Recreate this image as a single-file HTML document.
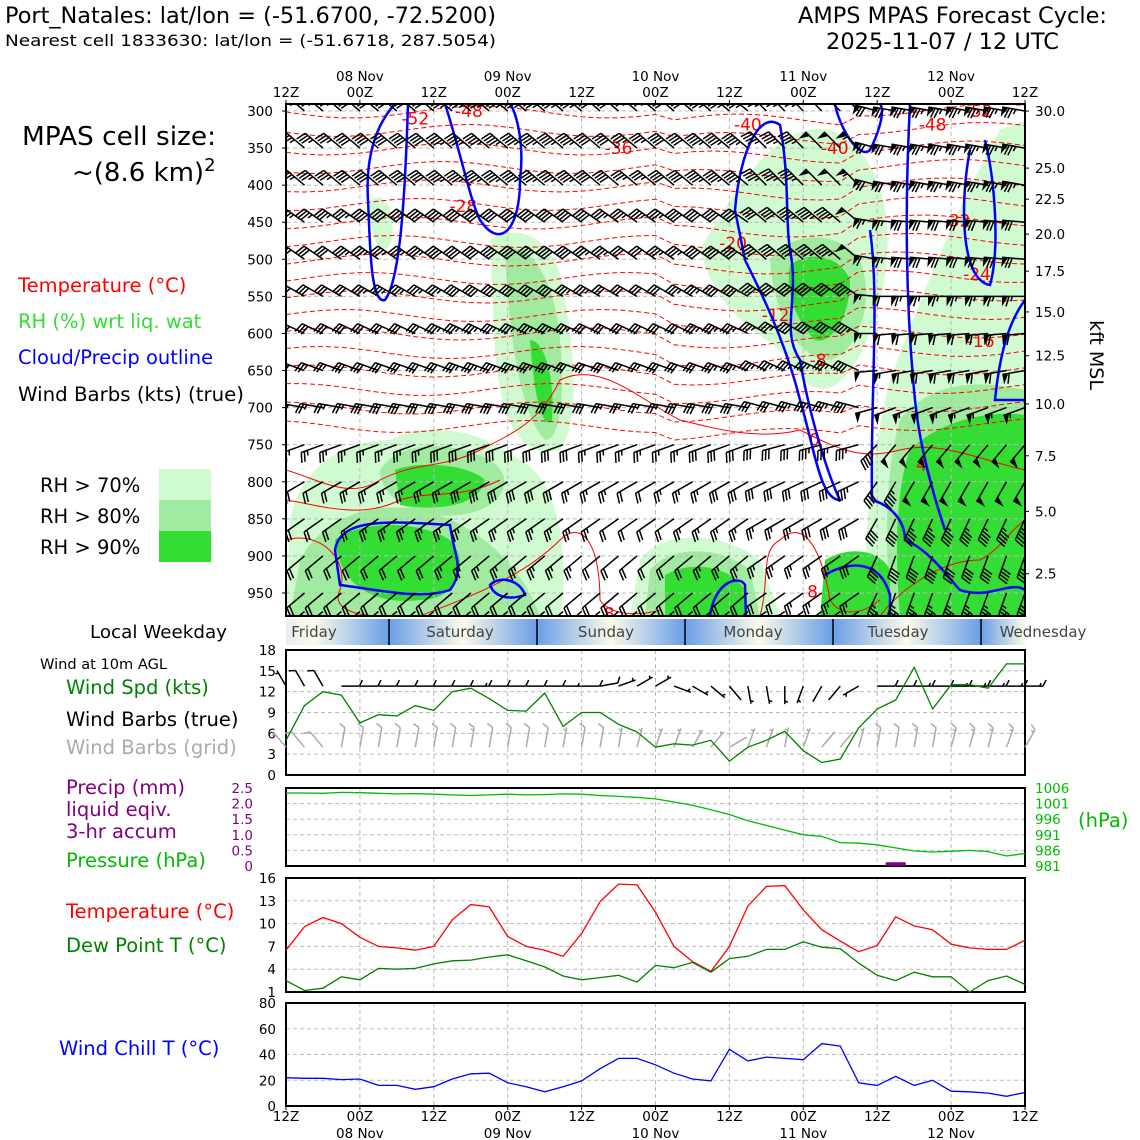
<!DOCTYPE html>
<html><head><meta charset="utf-8"><style>
html,body{margin:0;padding:0;background:#fff;}
svg{display:block;font-family:"DejaVu Sans","Liberation Sans",sans-serif;}
</style></head><body>
<svg id="s" width="1140" height="1140" viewBox="0 0 1140 1140" xmlns="http://www.w3.org/2000/svg">
<defs>
<linearGradient id="wk" x1="286" x2="1025" y1="0" y2="0" gradientUnits="userSpaceOnUse"></linearGradient>
<clipPath id="mainclip"><rect x="286" y="104" width="739" height="512"/></clipPath>
</defs>
<g>
<text x="5" y="23" font-size="22" textLength="491" lengthAdjust="spacingAndGlyphs">Port_Natales: lat/lon = (-51.6700, -72.5200)</text>
<text x="5" y="46" font-size="16" textLength="491" lengthAdjust="spacingAndGlyphs">Nearest cell 1833630: lat/lon = (-51.6718, 287.5054)</text>
<text x="798" y="23" font-size="22" textLength="309" lengthAdjust="spacingAndGlyphs">AMPS MPAS Forecast Cycle:</text>
<text x="826" y="49" font-size="22" textLength="233" lengthAdjust="spacingAndGlyphs">2025-11-07 / 12 UTC</text>
<text x="22" y="145" font-size="26" textLength="194" lengthAdjust="spacingAndGlyphs">MPAS cell size:</text>
<text x="72" y="181" font-size="26">~(8.6 km)<tspan dy="-10" font-size="18">2</tspan></text>
<text x="18" y="292" font-size="19.5" fill="#ff0000">Temperature (°C)</text>
<text x="18" y="328" font-size="19.5" fill="#33dd33">RH (%) wrt liq. wat</text>
<text x="18" y="364" font-size="19.5" fill="#0000ff">Cloud/Precip outline</text>
<text x="18" y="401" font-size="19.5" textLength="226" lengthAdjust="spacingAndGlyphs">Wind Barbs (kts) (true)</text>
<text x="40" y="492" font-size="19.5">RH &gt; 70%</text>
<text x="40" y="523" font-size="19.5">RH &gt; 80%</text>
<text x="40" y="554" font-size="19.5">RH &gt; 90%</text>
<rect x="159" y="469" width="52" height="31" fill="#d0fad0"/>
<rect x="159" y="500" width="52" height="31" fill="#a0eba0"/>
<rect x="159" y="531" width="52" height="31" fill="#33dd33"/>
<text x="90" y="638" font-size="18" textLength="137" lengthAdjust="spacingAndGlyphs">Local Weekday</text>
<text x="40" y="669" font-size="14" textLength="127" lengthAdjust="spacingAndGlyphs">Wind at 10m AGL</text>
<text x="66" y="694" font-size="19.5" fill="#008000">Wind Spd (kts)</text>
<text x="66" y="726" font-size="19.5">Wind Barbs (true)</text>
<text x="66" y="754" font-size="19.5" fill="#aaaaaa">Wind Barbs (grid)</text>
<text x="66" y="794" font-size="19.5" fill="#800080">Precip (mm)</text>
<text x="66" y="816" font-size="19.5" fill="#800080">liquid eqiv.</text>
<text x="66" y="838" font-size="19.5" fill="#800080">3-hr accum</text>
<text x="66" y="867" font-size="19.5" fill="#00bb00">Pressure (hPa)</text>
<text x="66" y="918" font-size="19.5" fill="#ff0000">Temperature (°C)</text>
<text x="66" y="952" font-size="19.5" fill="#008000">Dew Point T (°C)</text>
<text x="59" y="1055" font-size="19.5" fill="#0000ff">Wind Chill T (°C)</text>
<text x="1078" y="827" font-size="19.5" fill="#00bb00">(hPa)</text>
<text x="0" y="0" font-size="19" transform="translate(1090,355) rotate(90)" text-anchor="middle">kft MSL</text>
</g>
<g id="g"></g>
</svg>
<script>
// ---------- data ----------
const topTimeLabels=["12Z","00Z","12Z","00Z","12Z","00Z","12Z","00Z","12Z","00Z","12Z"];
const dateLabels=["08 Nov","09 Nov","10 Nov","11 Nov","12 Nov"];
const pressureTicks=[300,350,400,450,500,550,600,650,700,750,800,850,900,950];
const kftTicks=["30.0","25.0","22.5","20.0","17.5","15.0","12.5","10.0","7.5","5.0","2.5"];
const kftPress=[300,377,419,466,516,571,630,695,765,840,924];
const weekdays=["Friday","Saturday","Sunday","Monday","Tuesday","Wednesday"];
const barbLevels=[300,350,400,450,500,550,600,650,700,750,800,850,900,950,975];
const barbLevelSpeed=[45,45,45,42,40,38,36,34,32,30,28,26,24,22,20];
const barbLevelDir=[310,310,310,305,305,300,295,290,280,250,240,235,230,230,230];
const barbColFactor=[0.8,0.8,0.8,0.8,0.85,0.9,0.9,0.9,0.9,0.95,1,1,1,1,1,1,0.95,0.9,0.85,0.8,0.8,0.85,0.9,0.95,1,1,1,1,1.05,1.1,1.1,1.2,1.5,1.6,1.7,1.7,1.7,1.7,1.7,1.7,1.7];
const barbColDirShift=[0,0,0,0,0,0,0,0,0,0,0,0,0,0,0,0,0,0,0,0,0,0,0,0,0,0,5,5,5,5,5,5,-25,-30,-30,-30,-30,-30,-30,-30,-30];
const windSpd=[5,10,12,11.5,7.5,8.7,8.5,10,9.3,12,12.5,11,9.3,9.2,11.8,7,9,9,7.3,6.2,4,4.5,4.3,5,2,4,5,6.3,3.5,1.8,2.3,6.8,9.5,10.8,15.5,9.5,13,13,12.5,16,16];
const windTicks=[0,3,6,9,12,15,18];
const pressure=[1004.4,1004.4,1004.3,1004.6,1004.5,1004.3,1004.1,1004.2,1004.0,1003.8,1003.6,1003.8,1004.0,1003.8,1003.9,1004.1,1004.0,1003.6,1003.3,1003.0,1002.5,1001.5,1000.5,999.0,997.5,995.5,994.0,992.5,991.0,990.5,988.5,988.3,987.8,986.8,985.8,985.5,985.7,986.0,985.6,984.2,985.0];
const precip=[0,0,0,0,0,0,0,0,0,0,0,0,0,0,0,0,0,0,0,0,0,0,0,0,0,0,0,0,0,0,0,0,0,0.12,0,0,0,0,0,0,0];
const precipTicks=["0","0.5","1.0","1.5","2.0","2.5"];
const presTicks=[981,986,991,996,1001,1006];
const temp=[6.5,9.6,10.8,10,8.2,7,6.8,6.5,7,10.5,12.5,12.2,8.3,7,6.5,5.7,8.7,12.9,15.2,15.1,11.5,7,5,3.7,7,12.3,14.9,15,11.8,9.2,7.7,6.3,7.1,10.9,9.7,9.2,7.3,6.8,6.6,6.6,7.8];
const dewp=[2.5,1.2,1.5,3,2.6,4.1,4,4.1,4.7,5.1,5.2,5.6,5.9,5.1,4.3,3.1,2.6,2.9,3.2,2.3,4.5,4.2,4.9,3.6,5.4,5.7,6.6,6.6,7.6,6.9,6.7,4.8,3.2,2.5,3.6,3,3,1,2.5,3.1,2];
const tempTicks=[1,4,7,10,13,16];
const chill=[22,21.5,21.5,20.5,21,16,16,13,15,21,25,25.5,18,15,11,15,19.5,29,37,37,32,25.5,21,19.5,44,35,38,37,36,48.5,46.5,18,16,23,16,20,11.5,11,10,7.5,10.5];
const chillTicks=[0,20,40,60,80];
const tempContourLabels=[["-52",7.0,310],["-48",9.9,300],["-36",18.0,350],["-28",9.6,428],["-20",24.2,478],["-12",26.5,575],["-8",28.8,636],["0",28.6,743],["4",34.4,777],["8",17.5,978],["8",28.5,948],["12",27.0,988],["8",34.0,988],["-16",37.6,610],["-24",37.4,520],["-32",36.3,448],["-48",35.0,318],["-52",37.5,300],["-40",25.0,318],["-40",29.7,350]];
const sfcDirTrue=[330,330,330,90,90,90,90,90,90,90,90,90,90,90,90,90,90,80,70,60,60,110,120,130,140,170,170,180,200,210,220,240,90,90,90,90,90,90,90,90,90];
const sfcDirGrid=[320,320,320,10,10,10,10,10,10,10,10,10,10,10,10,10,10,10,10,15,20,20,30,40,60,20,20,10,20,40,40,15,10,10,10,10,15,15,15,20,30];

// ---------- helpers ----------
const NS="http://www.w3.org/2000/svg";
const G=document.getElementById('g');
const X0=286,X1=1025,DX=(X1-X0)/40;
function xT(i){return X0+i*DX;}
function yP(p){return 111+(p-300)*0.7415;}
function mk(tag,attrs,parent){const e=document.createElementNS(NS,tag);for(const k in attrs)e.setAttribute(k,attrs[k]);(parent||G).appendChild(e);return e;}
function txt(x,y,s,attrs,parent){const t=mk('text',Object.assign({x:x,y:y},attrs||{}),parent);t.textContent=s;return t;}
function lin(v0,v1,p0,p1){return v=>p0+(v-v0)*(p1-p0)/(v1-v0);}

// ---------- main panel ----------
const mainG=mk('g',{'clip-path':'url(#mainclip)'});


const rhShapes=[
 ['#d0fad0','M290 520 C300 470 340 440 390 440 C430 420 480 430 520 460 C560 480 570 560 560 616 L286 616 Z'],
 ['#d0fad0','M490 240 C520 220 560 240 565 300 C575 360 580 420 560 450 C520 460 500 420 495 350 Z'],
 ['#d0fad0','M640 560 C660 530 720 530 760 560 L780 616 L630 616 Z'],
 ['#d0fad0','M700 250 C740 180 780 120 830 130 C880 150 900 220 880 300 C860 380 820 420 790 360 C760 330 720 320 700 250 Z'],
 ['#d0fad0','M890 380 C920 300 960 200 1000 130 L1025 120 L1025 616 L870 616 C860 560 870 460 890 380 Z'],
 ['#d0fad0','M370 200 C385 190 395 210 392 240 C385 260 370 250 370 200 Z'],
 ['#a0eba0','M300 560 C320 520 370 500 420 510 C470 520 520 560 540 616 L290 616 Z'],
 ['#a0eba0','M380 470 C400 440 450 440 490 460 C520 480 500 510 460 515 C420 520 380 500 380 470 Z'],
 ['#a0eba0','M505 250 C530 240 555 280 560 340 C565 400 560 440 545 440 C525 420 510 360 505 250 Z'],
 ['#a0eba0','M650 570 C670 545 720 545 750 570 L760 616 L645 616 Z'],
 ['#a0eba0','M770 260 C790 230 840 230 860 260 C875 300 860 350 830 360 C800 360 775 320 770 260 Z'],
 ['#a0eba0','M900 420 C930 380 980 380 1025 390 L1025 616 L890 616 C885 540 885 470 900 420 Z'],
 ['#33dd33','M335 540 C360 520 420 520 450 540 C470 560 460 600 420 600 C380 605 340 590 335 540 Z'],
 ['#33dd33','M395 470 C420 460 470 465 485 480 C480 505 440 512 400 505 Z'],
 ['#33dd33','M530 340 C545 340 555 380 552 420 C545 430 535 410 530 340 Z'],
 ['#33dd33','M665 575 C690 560 730 565 745 590 L745 616 L665 616 Z'],
 ['#33dd33','M790 265 C810 250 840 255 850 280 C850 320 830 345 815 340 C795 320 785 290 790 265 Z'],
 ['#33dd33','M910 450 C940 420 990 410 1025 415 L1025 616 L900 616 C895 560 895 490 910 450 Z'],
 ['#33dd33','M825 560 C850 545 880 550 890 570 L890 616 L820 616 Z']
];
rhShapes.forEach(s=>{const p=mk('path',{d:s[1],fill:s[0]},mainG);

});
for(let i=0;i<=40;i+=4){mk('line',{x1:xT(i),x2:xT(i),y1:104,y2:616,stroke:'#bbb','stroke-dasharray':'4 3','stroke-width':1},mainG);}
pressureTicks.forEach(p=>{mk('line',{x1:X0,x2:X1,y1:yP(p),y2:yP(p),stroke:'#bbb','stroke-dasharray':'4 3','stroke-width':1},mainG);});
for(let k=0;k<18;k++){
 const base=112+k*18.5;let d='';
 for(let i=0;i<=40;i++){const x=xT(i);const y=base+6*Math.sin(i*0.45+k*0.3)+(i>20?8:0)-(i>30?10:0);d+=(i?'L':'M')+x.toFixed(1)+' '+y.toFixed(1);}
 const c=mk('path',{d:d,fill:'none',stroke:'#ff0000','stroke-width':1,'stroke-dasharray':'5 3'},mainG);
 
 
}
const solidContours=[
 'M286 470 C320 480 350 500 380 480 C420 460 440 470 480 450 C520 430 540 420 560 380 C600 360 640 400 680 420 C720 430 760 440 800 430 C840 450 860 460 900 450 C940 440 980 460 1025 470',
 'M286 540 C320 530 350 560 340 590 C330 610 360 616 380 616',
 'M420 616 C460 600 520 580 560 540 C580 520 600 540 600 600 C610 616 640 616 660 610',
 'M760 616 C770 580 760 550 780 540 C800 520 820 540 830 600 C840 616 860 616 880 600',
 'M880 616 C900 590 940 560 980 560 C1000 550 1010 530 1025 520',
 'M286 500 C320 505 360 520 400 500 C430 490 460 500 500 480'
];
solidContours.forEach(d=>{const c=mk('path',{d:d,fill:'none',stroke:'#ff0000','stroke-width':1},mainG);

});
tempContourLabels.forEach(l=>{const t=txt(xT(l[1]),yP(l[2])+6,l[0],{'font-size':17,fill:'#ff0000','text-anchor':'middle'},mainG);

});
const cloudPaths=[
 'M408 104 C405 200 400 280 385 300 C370 305 370 240 368 200 C365 150 380 120 395 104',
 'M445 104 C460 150 470 200 480 220 C500 250 520 230 520 180 C525 140 515 110 510 104',
 'M335 550 C340 520 380 520 450 525 C455 560 465 570 450 590 C420 600 380 590 340 585 Z',
 'M490 585 C500 575 520 580 525 595 C510 600 495 598 490 585 Z',
 'M710 616 C715 580 740 575 745 585 L746 616',
 'M735 210 C740 150 760 110 780 125 C790 180 785 220 790 250 C800 300 780 330 800 360 C810 420 830 480 840 500 C820 500 815 450 800 400 C785 340 760 290 745 260 Z',
 'M835 104 C840 130 860 160 870 150 C880 130 885 110 880 104',
 'M870 230 C880 300 870 400 872 500 C890 505 905 520 905 540 C930 550 950 580 960 590 C990 600 1010 580 1025 590',
 'M825 575 C850 560 880 560 890 595 L890 616',
 'M910 104 C905 200 905 300 915 400 C920 450 935 500 945 530',
 'M970 150 C960 200 960 280 990 285 C1000 250 995 180 985 140',
 'M1025 300 C1010 320 1000 350 995 400 L1025 400'
];
cloudPaths.forEach(d=>{const p=mk('path',{d:d,fill:'none',stroke:'#0000ff','stroke-width':2.5},mainG);

});
function barb(x,y,dir,spd,len,color,parent,tick){
 const r=dir*Math.PI/180;const ux=Math.sin(r),uy=-Math.cos(r);
 const px=uy,py=-ux;
 const ex=x+ux*len,ey=y+uy*len;
 let d=`M${x.toFixed(1)} ${y.toFixed(1)}L${ex.toFixed(1)} ${ey.toFixed(1)}`;
 let s=Math.round(spd/5)*5,pos=0;let fl='';
 while(s>=50){const bx=ex-ux*pos,by=ey-uy*pos;const cx=ex-ux*(pos+6),cy=ey-uy*(pos+6);
  fl+=`M${bx.toFixed(1)} ${by.toFixed(1)}L${(bx+px*tick).toFixed(1)} ${(by+py*tick).toFixed(1)}L${cx.toFixed(1)} ${cy.toFixed(1)}Z`;pos+=7;s-=50;}
 while(s>=10){const bx=ex-ux*pos,by=ey-uy*pos;d+=`M${bx.toFixed(1)} ${by.toFixed(1)}l${(px*tick+ux*3).toFixed(1)} ${(py*tick+uy*3).toFixed(1)}`;pos+=3.3;s-=10;}
 if(s>=5){if(pos===0)pos=3.3;const bx=ex-ux*pos,by=ey-uy*pos;d+=`M${bx.toFixed(1)} ${by.toFixed(1)}l${(px*tick/2+ux*1.5).toFixed(1)} ${(py*tick/2+uy*1.5).toFixed(1)}`;}
 const g=mk('g',{},parent);
 mk('path',{d:d,stroke:color,'stroke-width':1.5,fill:'none'},g);
 if(fl)mk('path',{d:fl,fill:color,stroke:'none'},g);
 return g;
}
for(let i=1;i<41;i++){barbLevels.forEach((p,k)=>{
 const b=barb(xT(i),yP(p),barbLevelDir[k]+barbColDirShift[i],barbLevelSpeed[k]*barbColFactor[i],23,'#000',mainG,10);
 
 
});}
mk('rect',{x:X0,y:104,width:X1-X0,height:512,fill:'none',stroke:'#000','stroke-width':2});
pressureTicks.forEach(p=>{txt(273,yP(p)+5,String(p),{'font-size':13.5,'text-anchor':'end'});mk('line',{x1:X0-4,x2:X0,y1:yP(p),y2:yP(p),stroke:'#000'});});
kftTicks.forEach((s,k)=>{txt(1035,yP(kftPress[k])+5,s,{'font-size':13.5});mk('line',{x1:X1,x2:X1+4,y1:yP(kftPress[k]),y2:yP(kftPress[k]),stroke:'#000'});});
topTimeLabels.forEach((s,k)=>{txt(xT(k*4),97,s,{'font-size':13.5,'text-anchor':'middle'});mk('line',{x1:xT(k*4),x2:xT(k*4),y1:100,y2:104,stroke:'#000'});});
dateLabels.forEach((s,k)=>{txt(xT(4+k*8),81,s,{'font-size':13.5,'text-anchor':'middle'});});
const wk=document.getElementById('wk');const bounds=[389,537,685,833,981];
function stop(o,c){const s=document.createElementNS(NS,'stop');s.setAttribute('offset',o);s.setAttribute('stop-color',c);wk.appendChild(s);}
stop(0,'#e8eef0');
bounds.forEach(b=>{const o=(b-286)/739;stop(Math.max(0,o-0.1),'#fbfbe8');stop(o,'#6a9ee8');stop(Math.min(1,o+0.1),'#fbfbe8');});
stop(1,'#6a9ee8');
const wb=mk('rect',{x:X0,y:619,width:739,height:26,fill:'url(#wk)'});


bounds.forEach(b=>mk('line',{x1:b,x2:b,y1:619,y2:645,stroke:'#000','stroke-width':1.5}));
const wkCenters=[314,460,606,753,898,1043];
weekdays.forEach((s,k)=>{const t=txt(wkCenters[k],637,s,{'font-size':15,'text-anchor':'middle',fill:'#444'});

});

function panel(y0,y1,ticks,v0,v1,fmt,name){
 const y=lin(v0,v1,y1,y0);
 for(let i=4;i<40;i+=4)mk('line',{x1:xT(i),x2:xT(i),y1:y0,y2:y1,stroke:'#bbb','stroke-dasharray':'4 3'});
 ticks.forEach(t=>{mk('line',{x1:X0,x2:X1,y1:y(t),y2:y(t),stroke:'#bbb','stroke-dasharray':'4 3'});
  if(fmt)txt(276,y(t)+5,String(t),{'font-size':13.5,'text-anchor':'end'});});
 const r=mk('rect',{x:X0,y:y0,width:X1-X0,height:y1-y0,fill:'none',stroke:'#000','stroke-width':2});
 
 
 return y;
}
function series(vals,yf,color,name){
 let d='';vals.forEach((v,i)=>{d+=(i?'L':'M')+xT(i).toFixed(1)+' '+yf(v).toFixed(1);});
 const p=mk('path',{d:d,fill:'none',stroke:color,'stroke-width':1.3});
 
 
}
const yW=panel(650,775,windTicks,0,18,true,'wind-panel');
for(let i=0;i<=40;i++){
 const b1=barb(xT(i),yW(12.8),sfcDirTrue[i],windSpd[i],18,'#000',G,6);
 
 
 const b2=barb(xT(i),yW(4),sfcDirGrid[i],windSpd[i],20,'#aaaaaa',G,6);
 
 
}
series(windSpd,yW,'#008000','wind-speed-line');
const yPr=panel(788,866,[0,0.5,1,1.5,2,2.5],0,2.5,false,'precip-pressure-panel');
precipTicks.forEach(s=>txt(253,yPr(parseFloat(s))+5,s,{'font-size':13.5,'text-anchor':'end',fill:'#800080'}));
const yPs=lin(981,1006,866,788);
presTicks.forEach(p=>txt(1035,yPs(p)+5,String(p),{'font-size':13.5,fill:'#00bb00'}));
precip.forEach((v,i)=>{if(v>0){const r=mk('rect',{x:xT(i)-10,y:yPr(v),width:20,height:866-yPr(v),fill:'#800080'});
 
 }});
series(pressure,yPs,'#00bb00','pressure-line');
const yTp=panel(878,992,tempTicks,1,16,true,'temperature-panel');
series(temp,yTp,'#ff0000','temperature-line');
series(dewp,yTp,'#008000','dewpoint-line');
const yC=panel(1003,1106,chillTicks,0,80,true,'wind-chill-panel');
series(chill,yC,'#0000ff','wind-chill-line');
topTimeLabels.forEach((s,k)=>{txt(xT(k*4),1121,s,{'font-size':13.5,'text-anchor':'middle'});mk('line',{x1:xT(k*4),x2:xT(k*4),y1:1106,y2:1110,stroke:'#000'});});
dateLabels.forEach((s,k)=>{txt(xT(4+k*8),1138,s,{'font-size':13.5,'text-anchor':'middle'});});
</script>
</body></html>
